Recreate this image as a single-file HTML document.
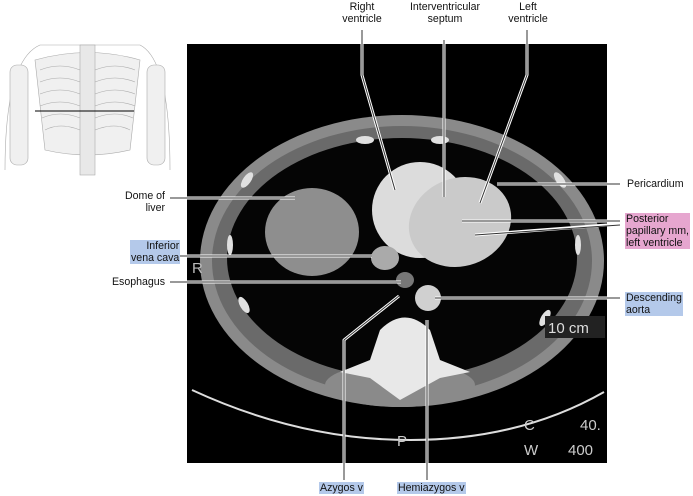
<!DOCTYPE html>
<html><head><style>
body{margin:0;width:693px;height:496px;background:#fff;overflow:hidden;position:relative;font-family:"Liberation Sans",sans-serif;font-size:10.6px;color:#111;}
.t{position:absolute;line-height:12px;white-space:nowrap}
.b{background:#b4c9ea}
.p{background:#e6a6cf}
</style></head><body>
<svg width="693" height="496" style="position:absolute;left:0;top:0">
  <g stroke="#aaa" fill="#f0f0f0" stroke-width="0.6">
    <path d="M5 170 Q5 60 40 45 L140 45 Q170 60 170 170" fill="none"/>
    <rect x="10" y="65" width="18" height="100" rx="7"/>
    <rect x="147" y="65" width="18" height="100" rx="7"/>
    <path d="M35 60 Q88 45 140 60 L130 150 Q88 160 45 150 Z"/>
    <rect x="80" y="45" width="15" height="130" fill="#e8e8e8"/>
    <g fill="none">
      <path d="M40 70 Q60 62 80 70"/><path d="M40 82 Q60 74 80 82"/><path d="M40 94 Q60 86 80 94"/><path d="M40 106 Q60 98 80 106"/><path d="M42 118 Q60 110 80 118"/><path d="M45 130 Q60 122 80 130"/>
      <path d="M95 70 Q115 62 135 70"/><path d="M95 82 Q115 74 135 82"/><path d="M95 94 Q115 86 135 94"/><path d="M95 106 Q115 98 135 106"/><path d="M95 118 Q115 110 133 118"/><path d="M95 130 Q115 122 130 130"/>
    </g>
  </g>
  <line x1="35" y1="111" x2="134" y2="111" stroke="#000" stroke-width="1"/>
  <rect x="187" y="44" width="420" height="419" fill="#000"/>
  <ellipse cx="402" cy="261" rx="202" ry="146" fill="#8a8a8a"/>
  <ellipse cx="402" cy="261" rx="190" ry="135" fill="#6a6a6a"/>
  <ellipse cx="402" cy="258" rx="175" ry="120" fill="#050505"/>
  <g fill="#e0e0e0">
    <ellipse cx="247" cy="180" rx="4" ry="9" transform="rotate(35 247 180)"/>
    <ellipse cx="230" cy="245" rx="3" ry="10"/>
    <ellipse cx="244" cy="305" rx="4" ry="9" transform="rotate(-30 244 305)"/>
    <ellipse cx="560" cy="180" rx="4" ry="9" transform="rotate(-35 560 180)"/>
    <ellipse cx="578" cy="245" rx="3" ry="10"/>
    <ellipse cx="545" cy="318" rx="4" ry="9" transform="rotate(30 545 318)"/>
    <ellipse cx="365" cy="140" rx="9" ry="4"/>
    <ellipse cx="440" cy="140" rx="9" ry="4"/>
  </g>
  <ellipse cx="312" cy="232" rx="47" ry="44" fill="#8e8e8e"/>
  <ellipse cx="420" cy="210" rx="48" ry="48" fill="#dcdcdc"/>
  <ellipse cx="460" cy="222" rx="52" ry="44" fill="#cacaca" transform="rotate(-20 460 222)"/>
  <ellipse cx="385" cy="258" rx="14" ry="12" fill="#aaa"/>
  <ellipse cx="405" cy="280" rx="9" ry="8" fill="#777"/>
  <circle cx="428" cy="298" r="13" fill="#d0d0d0"/>
  <ellipse cx="400" cy="385" rx="75" ry="22" fill="#8a8a8a"/>
  <path d="M380 330 Q405 305 430 330 L440 360 L470 372 L440 378 L400 400 L370 378 L340 372 L370 360 Z" fill="#e8e8e8"/>
  <path d="M192 390 Q300 440 410 440 Q520 440 604 392" stroke="#ddd" stroke-width="2" fill="none"/>
  <text x="192" y="273" fill="#bbb" font-size="15" font-family="Liberation Sans">R</text>
  <text x="397" y="446" fill="#ccc" font-size="15" font-family="Liberation Sans">P</text>
  <rect x="545" y="316" width="60" height="22" fill="#222"/>
  <text x="548" y="333" fill="#ddd" font-size="15" font-family="Liberation Sans">10 cm</text>
  <text x="524" y="430" fill="#ccc" font-size="15" font-family="Liberation Sans">C</text>
  <text x="580" y="430" fill="#ccc" font-size="15" font-family="Liberation Sans">40.</text>
  <text x="524" y="455" fill="#ccc" font-size="15" font-family="Liberation Sans">W</text>
  <text x="568" y="455" fill="#ccc" font-size="15" font-family="Liberation Sans">400</text>
  <g fill="none" stroke-linejoin="round">
   <g stroke="#fff" stroke-width="3">
    <polyline points="362,44 362,75 395,190"/>
    <line x1="444" y1="44" x2="444" y2="197"/>
    <polyline points="527,44 527,75 480,203"/>
    <line x1="497" y1="184" x2="607" y2="184"/>
    <line x1="462" y1="221" x2="607" y2="221"/>
    <line x1="475" y1="235" x2="607" y2="225"/>
    <line x1="187" y1="198" x2="295" y2="198"/>
    <line x1="187" y1="256" x2="372" y2="256"/>
    <line x1="187" y1="282" x2="401" y2="282"/>
    <line x1="435" y1="298" x2="607" y2="298"/>
    <polyline points="344,463 344,340 399,296"/>
    <line x1="427" y1="463" x2="427" y2="320"/>
   </g>
   <g stroke="#333" stroke-width="1">
    <polyline points="362,30 362,75 395,190"/>
    <line x1="444" y1="40" x2="444" y2="197"/>
    <polyline points="527,30 527,75 480,203"/>
    <line x1="497" y1="184" x2="620" y2="184"/>
    <line x1="462" y1="221" x2="620" y2="221"/>
    <line x1="475" y1="235" x2="620" y2="225"/>
    <line x1="170" y1="198" x2="295" y2="198"/>
    <line x1="170" y1="256" x2="372" y2="256"/>
    <line x1="170" y1="282" x2="401" y2="282"/>
    <line x1="435" y1="298" x2="620" y2="298"/>
    <polyline points="344,480 344,340 399,296"/>
    <line x1="427" y1="480" x2="427" y2="320"/>
   </g>
  </g>
</svg>
<div class="t" style="left:332px;top:1px;text-align:center;width:60px">Right<br>ventricle</div>
<div class="t" style="left:400px;top:1px;text-align:center;width:90px">Interventricular<br>septum</div>
<div class="t" style="left:500px;top:1px;text-align:center;width:56px">Left<br>ventricle</div>
<div class="t" style="left:627px;top:178px">Pericardium</div>
<div class="t p" style="left:625px;top:213px;padding:0 1px">Posterior<br>papillary mm,<br>left ventricle</div>
<div class="t" style="left:100px;top:190px;width:65px;text-align:right">Dome of<br>liver</div>
<div class="t b" style="left:130px;top:240px;text-align:right;padding:0 1px">Inferior<br>vena cava</div>
<div class="t" style="left:100px;top:276px;width:65px;text-align:right">Esophagus</div>
<div class="t b" style="left:625px;top:292px;padding:0 1px">Descending<br>aorta</div>
<div class="t b" style="left:319px;top:482px;padding:0 1px">Azygos v</div>
<div class="t b" style="left:397px;top:482px;padding:0 1px">Hemiazygos v</div>
</body></html>
